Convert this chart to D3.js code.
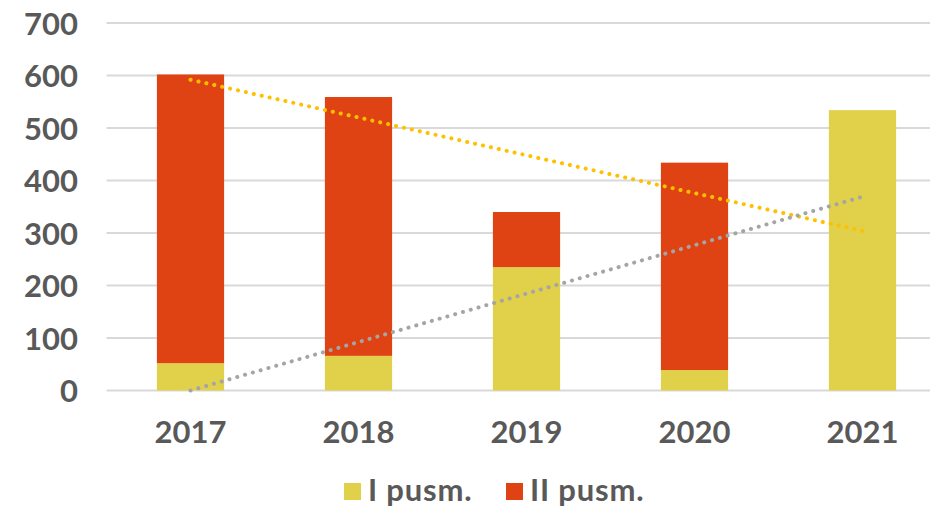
<!DOCTYPE html>
<html>
<head>
<meta charset="utf-8">
<script src="https://cdn.jsdelivr.net/npm/d3@7"></script>
<style>
  body { margin: 0; background: #fff; }
  text { font-family: Lato, "Open Sans", sans-serif; font-weight: bold; fill: #595959; }
</style>
</head>
<body>
<div class="chart"></div>
<script>
var years = ["2017", "2018", "2019", "2020", "2021"];
var firstHalf = [52, 66, 235, 39, 534];     // I pusm.
var secondHalf = [550, 493, 105, 395, 0];   // II pusm.
var yTicks = [0, 100, 200, 300, 400, 500, 600, 700];
var seriesNames = ["I pusm.", "II pusm."];
// trend lines: [value at 2017, value at 2021]
var trendSecond = [592, 304];
var trendFirst = [0, 369];

var width = 930, height = 507;
var margin = {top: 23, left: 106.5, bottom: 116.5};

var colors = ["#E0D04A", "#DF4313"];

var svg = d3.select(".chart").append("svg")
    .attr("width", width)
    .attr("height", height);

var x = d3.scaleBand()
    .domain(years)
    .range([margin.left, margin.left + 168 * years.length])
    .paddingInner(0.6)
    .paddingOuter(0.3);

var y = d3.scaleLinear()
    .domain([0, 700])
    .range([height - margin.bottom, margin.top]);

// gridlines
svg.append("g")
  .selectAll("line")
  .data(yTicks)
  .enter().append("line")
    .attr("x1", margin.left)
    .attr("x2", width)
    .attr("y1", function(d) { return y(d); })
    .attr("y2", function(d) { return y(d); })
    .attr("stroke", "#D9D9D9")
    .attr("stroke-width", 2);

// y axis labels
var yAxis = svg.append("g")
    .attr("transform", "translate(78,0)")
    .call(d3.axisLeft(y).tickValues(yTicks).tickSize(0).tickPadding(0));
yAxis.select(".domain").remove();
yAxis.selectAll("text")
    .attr("font-size", 31)
    .attr("font-family", null)
    .attr("dy", "0.36em");

// x axis labels
var xAxis = svg.append("g")
    .attr("transform", "translate(0," + y(0) + ")")
    .call(d3.axisBottom(x).tickSize(0).tickPadding(0));
xAxis.select(".domain").remove();
xAxis.selectAll("text")
    .attr("font-size", 31)
    .attr("font-family", null)
    .attr("y", 52)
    .attr("dy", 0);

// stacked bars
var rows = years.map(function(yr, i) {
  return {year: yr, a: firstHalf[i], b: secondHalf[i]};
});
var stack = d3.stack().keys(["a", "b"])(rows);

svg.append("g")
  .selectAll("g")
  .data(stack)
  .enter().append("g")
    .attr("fill", function(d, i) { return colors[i]; })
  .selectAll("rect")
  .data(function(d) { return d; })
  .enter().append("rect")
    .attr("x", function(d) { return x(d.data.year); })
    .attr("width", x.bandwidth())
    .attr("y", function(d) { return y(d[1]); })
    .attr("height", function(d) { return y(d[0]) - y(d[1]); });

// dotted trend lines
var cx = function(yr) { return x(yr) + x.bandwidth() / 2; };
var trends = [
  {vals: trendSecond, color: "#FFC000"},
  {vals: trendFirst, color: "#A5A5A5"}
];
var line = d3.line()
    .x(function(d) { return cx(d[0]); })
    .y(function(d) { return y(d[1]); });

svg.append("g")
  .selectAll("path")
  .data(trends)
  .enter().append("path")
    .attr("d", function(t) {
      return line([[years[0], t.vals[0]], [years[years.length - 1], t.vals[1]]]);
    })
    .attr("fill", "none")
    .attr("stroke", function(t) { return t.color; })
    .attr("stroke-width", 4)
    .attr("stroke-linecap", "round")
    .attr("stroke-dasharray", "0.1 8");

// legend
var legendX = [344, 506];
var legend = svg.append("g")
  .selectAll("g")
  .data(seriesNames)
  .enter().append("g")
    .attr("transform", function(d, i) { return "translate(" + legendX[i] + ",483)"; });
legend.append("rect")
    .attr("width", 17)
    .attr("height", 17)
    .attr("fill", function(d, i) { return colors[i]; });
legend.append("text")
    .attr("x", 24)
    .attr("y", 18)
    .attr("font-size", 31)
    .attr("letter-spacing", 0.8)
    .text(function(d) { return d; });
</script>
</body>
</html>
